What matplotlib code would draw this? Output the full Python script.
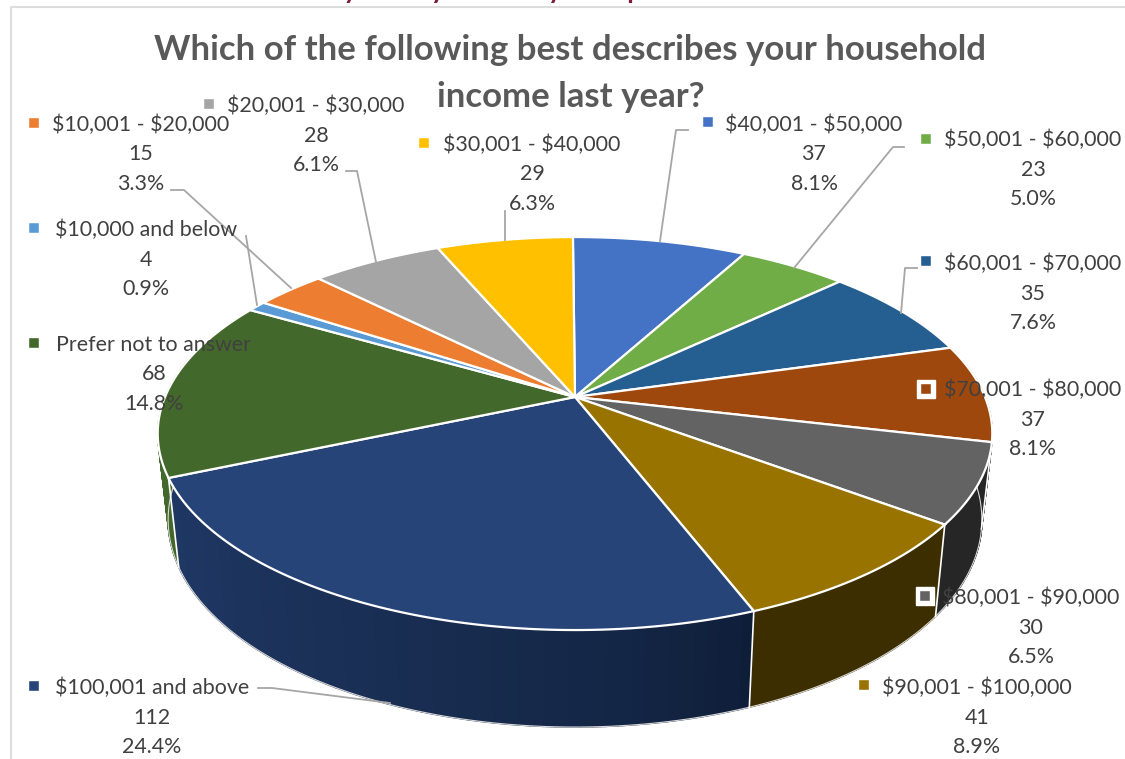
import numpy as np
import matplotlib
matplotlib.use("Agg")
import matplotlib.pyplot as plt
from matplotlib.colors import to_rgb

plt.rcParams["font.family"] = ["Lato", "DejaVu Sans"]
plt.rcParams["text.parse_math"] = False

# clockwise from 12 o'clock
categories = [
    "$40,001 - $50,000", "$50,001 - $60,000", "$60,001 - $70,000",
    "$70,001 - $80,000", "$80,001 - $90,000", "$90,001 - $100,000",
    "$100,001 and above", "Prefer not to answer", "$10,000 and below",
    "$10,001 - $20,000", "$20,001 - $30,000", "$30,001 - $40,000",
]
counts = [37, 23, 35, 37, 30, 41, 112, 68, 4, 15, 28, 29]
percents = ["8.1%", "5.0%", "7.6%", "8.1%", "6.5%", "8.9%",
            "24.4%", "14.8%", "0.9%", "3.3%", "6.1%", "6.3%"]
colors = ["#4472C4", "#70AD47", "#255E91", "#9E480E", "#636363", "#997300",
          "#264478", "#43682B", "#5B9BD5", "#ED7D31", "#A5A5A5", "#FFC000"]
wall_start = ["#2F4F88", "#4E7832", "#1A4166", "#6E320A", "#262626", "#3D2E00",
              "#0F1E38", "#43682B", "#3F6C95", "#A55722", "#737373", "#B28600"]
wall_end = ["#2F4F88", "#4E7832", "#1A4166", "#6E320A", "#262626", "#3D2E00",
            "#1F3864", "#43682B", "#3F6C95", "#A55722", "#737373", "#B28600"]
title_lines = ["Which of the following best describes your household", "income last year?"]

# label centre x, first line y, marker x, marker y
label_pos = [
    (814, 125, 708, 122), (1033, 140, 926, 139), (1033, 264, 926, 261),
    (1033, 390, 926, 389), (1031, 598, 925, 596), (977, 688, 864, 685),
    (152, 688, 34, 686), (154, 345, 34, 343), (146, 230, 34, 228),
    (141, 125, 34, 123), (316, 106, 209, 104), (532, 145, 424, 143),
]
leaders = [
    [(660, 241), (676, 130), (688, 130)],
    [(794, 268), (893, 147), (904, 147)],
    [(901, 313), (905, 268), (917, 268)],
    None,
    None,
    None,
    [(390, 703), (272, 688), (258, 688)],
    None,
    [(257, 305), (246, 236)],
    [(291, 288), (184, 190), (171, 190)],
    [(376, 262), (357, 171), (346, 171)],
    [(505, 240), (505, 211)],
]

fig = plt.figure(figsize=(11.25, 7.59), dpi=100)
ax = fig.add_axes([0, 0, 1, 1])
ax.set_xlim(0, 1125)
ax.set_ylim(759, 0)
ax.axis("off")


def project(theta, r=1.0, depth=0.0):
    # perspective view of the pie, theta clockwise from the top
    x = r * np.sin(theta)
    y = r * np.cos(theta)
    w = 1 + 0.186 * y
    scale = 1 - 0.025 * depth
    return 575 + 410 * x / w * scale, 397 - 189.7 * y / w + (83.7 - 13.3 * y) * depth


# the first slice starts a hair left of 12 o'clock
edges = np.cumsum([0] + counts) / sum(counts) * 2 * np.pi - 0.006

# outer walls, only the front part is visible
for i, c in enumerate(counts):
    a0, a1 = max(edges[i], np.pi / 2 - 0.2), min(edges[i + 1], 3 * np.pi / 2 + 0.2)
    if a1 <= a0:
        continue
    n_strips = 60
    strip_edges = np.linspace(a0, a1, n_strips + 1)
    c0, c1 = np.array(to_rgb(wall_start[i])), np.array(to_rgb(wall_end[i]))
    for s in range(n_strips):
        t = np.linspace(strip_edges[s], strip_edges[s + 1], 4)
        xt, yt = project(t)
        xb, yb = project(t, depth=1)
        f = s / (n_strips - 1)
        col = c0 + (c1 - c0) * f ** 0.7
        ax.fill(np.r_[xt, xb[::-1]], np.r_[yt, yb[::-1]], color=col, lw=1.0, zorder=2)
    xt, yt = project(np.linspace(a0, a1, 90), depth=1)
    ax.plot(xt, yt, color="#D9D9D9", lw=0.8, zorder=2.5)

for a in edges:
    if np.pi / 2 < a < 3 * np.pi / 2:
        xa, ya = project(np.array([a]), depth=0)
        xb, yb = project(np.array([a]), depth=1)
        ax.plot([xa[0], xb[0]], [ya[0], yb[0]], color="white", lw=1.2, zorder=3)

# top slices
cx, cy = project(np.array([0.0]), r=0.0)
for i, c in enumerate(counts):
    t = np.linspace(edges[i], edges[i + 1], 100)
    xs, ys = project(t)
    ax.fill(np.r_[cx, xs], np.r_[cy, ys], facecolor=colors[i], edgecolor="white",
            lw=1.6, joinstyle="miter", zorder=4)

# leader lines
for pts in leaders:
    if pts is None:
        continue
    xs, ys = zip(*pts)
    ax.plot(xs, ys, color="#A6A6A6", lw=1.3, zorder=5)

# data labels
for i, name in enumerate(categories):
    lx, ly, mx, my = label_pos[i]
    for k, line in enumerate([name, str(counts[i]), percents[i]]):
        ax.text(lx, ly + k * 29.5, line, ha="center", va="center", fontsize=15.4,
                color="#404040", zorder=7)
    if i in (3, 4):
        ax.plot(mx, my, "s", ms=12.5, color="white", mec="white", zorder=8)
    ax.plot(mx, my, "s", ms=6.5, color=colors[i], mec="white", mew=0.3, zorder=8)

for k, line in enumerate(title_lines):
    ax.text(570.5, 50 + k * 47, line, ha="center", va="center", fontsize=25,
            fontweight="bold", color="#595959", zorder=6)

# chart frame and the clipped heading above it
ax.plot([11, 11, 1125], [759, 7, 7], color="#DDDDDD", lw=1.5, zorder=1)
ax.text(280, -9, "Family Survey Summary Group", ha="left", va="center", fontsize=19,
        fontweight="bold", color="#7B1C3A", zorder=1)

fig.savefig("out.png", dpi=100)
